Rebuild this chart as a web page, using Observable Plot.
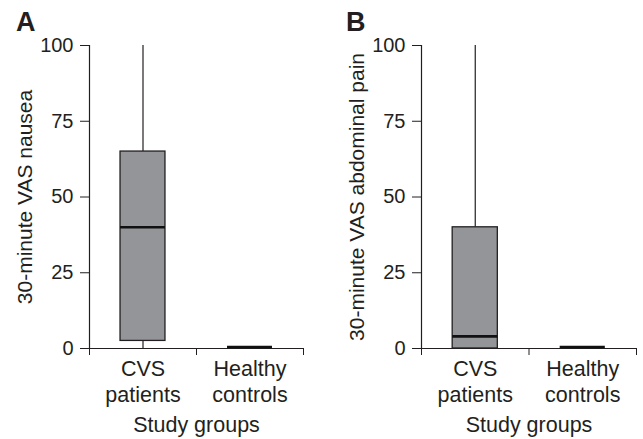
<!DOCTYPE html>
<html>
<head>
<meta charset="utf-8">
<script src="https://cdn.jsdelivr.net/npm/d3@7"></script>
<script src="https://cdn.jsdelivr.net/npm/@observablehq/plot@0.6"></script>
<style>
  html, body { margin: 0; padding: 0; background: #fff; }
  #wrap { position: relative; width: 643px; height: 439px; overflow: hidden; font-family: "Liberation Sans", Arial, sans-serif; color: #231f20; }
  .panel { position: absolute; top: 0; }
  .letter { position: absolute; font-weight: bold; font-size: 27px; line-height: 1; }
</style>
</head>
<body>
<div id="wrap">
  <div class="letter" style="left:16px;top:9px;">A</div>
  <div class="letter" style="left:346px;top:9px;">B</div>
  <div id="pa" class="panel" style="left:0px;"></div>
  <div id="pb" class="panel" style="left:320px;"></div>
</div>
<script>
// ---- data ----
const groups = ["CVS patients", "Healthy controls"];
const groupLabels = ["CVS\npatients", "Healthy\ncontrols"];
const yTicks = [0, 25, 50, 75, 100];

// Panel A: 30-minute VAS nausea
const nauseaMin    = [0, 0.5];
const nauseaQ1     = [2.5, 0.5];
const nauseaMedian = [40, 0.5];
const nauseaQ3     = [65, 0.5];
const nauseaMax    = [100, 0.5];

// Panel B: 30-minute VAS abdominal pain
const painMin    = [0, 0.5];
const painQ1     = [0, 0.5];
const painMedian = [4, 0.5];
const painQ3     = [40, 0.5];
const painMax    = [100, 0.5];

const ink = "#231f20";
const fontFamily = '"Liberation Sans", Arial, sans-serif';

function rowsFrom(mn, q1, md, q3, mx) {
  return groups.map((g, i) => ({
    group: g, label: groupLabels[i], pos: i + 0.5,
    min: mn[i], q1: q1[i], median: md[i], q3: q3[i], max: mx[i]
  }));
}

function panel({rows, yLabel, width, marginLeft, marginRight}) {
  const half = 0.21; // half box width, in group units
  return Plot.plot({
    width, height: 439,
    marginLeft, marginRight, marginTop: 45, marginBottom: 91,
    x: {domain: [0, groups.length], axis: null},
    y: {domain: [0, 100], axis: null},
    style: {fontFamily, fontSize: "20px", color: ink, background: "transparent", overflow: "visible"},
    marks: [
      Plot.axisY({ticks: yTicks, tickSize: 9, tickPadding: 7, fontSize: 20, stroke: ink, fill: ink,
        label: yLabel, labelAnchor: "center", labelOffset: 72, labelArrow: "none"}),
      Plot.axisX({ticks: d3.range(groups.length + 1), tickSize: 7, tickFormat: () => "", stroke: ink, label: null}),
      Plot.ruleX([0], {y1: 0, y2: 100, stroke: ink, strokeWidth: 1.2}),
      Plot.ruleY([0], {x1: 0, x2: groups.length, stroke: ink, strokeWidth: 1.2}),
      // whiskers
      Plot.ruleX(rows, {x: "pos", y1: "min", y2: "q1", stroke: ink, strokeWidth: 1.2}),
      Plot.ruleX(rows, {x: "pos", y1: "q3", y2: "max", stroke: ink, strokeWidth: 1.2}),
      // boxes
      Plot.rect(rows, {x1: d => d.pos - half, x2: d => d.pos + half, y1: "q1", y2: "q3",
        fill: "#939598", stroke: ink, strokeWidth: 1.3}),
      // medians
      Plot.ruleY(rows, {y: "median", x1: d => d.pos - half, x2: d => d.pos + half, stroke: "#111", strokeWidth: 2.6}),
      // category labels
      Plot.text(rows, {x: "pos", y: 0, text: "label", lineAnchor: "top", dy: 10, lineHeight: 1.17,
        fontSize: 21.5, fill: ink}),
      // x title
      Plot.text(["Study groups"], {frameAnchor: "bottom", lineAnchor: "middle", dy: 77, fontSize: 21.5, fill: ink})
    ]
  });
}

document.getElementById("pa").appendChild(panel({
  rows: rowsFrom(nauseaMin, nauseaQ1, nauseaMedian, nauseaQ3, nauseaMax),
  yLabel: "30-minute VAS nausea", width: 320, marginLeft: 89, marginRight: 17
}));
document.getElementById("pb").appendChild(panel({
  rows: rowsFrom(painMin, painQ1, painMedian, painQ3, painMax),
  yLabel: "30-minute VAS abdominal pain", width: 323, marginLeft: 101, marginRight: 7
}));

// larger axis label font
document.querySelectorAll("#wrap svg g[aria-label='y-axis label'] text").forEach(t => t.setAttribute("font-size", 21));
</script>
</body>
</html>
